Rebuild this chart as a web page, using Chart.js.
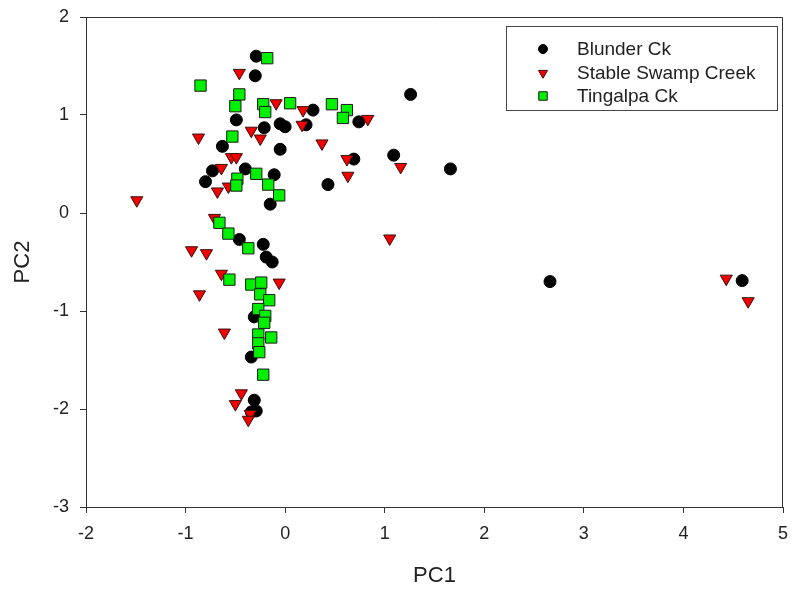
<!DOCTYPE html>
<html>
<head>
<meta charset="utf-8">
<script src="https://cdn.jsdelivr.net/npm/chart.js@4"></script>
<style>
  html, body { margin: 0; padding: 0; background: #fff; }
  canvas { display: block; }
</style>
</head>
<body>
<canvas id="pcaCanvas" width="792" height="590"></canvas>
<script>
// PC1 / PC2 scores
const blunderX = [-0.29, -0.30, 1.26, -0.49, -0.21, -0.05, 0.00, 0.28, 0.21, 0.74, 0.69, 1.09, 1.66, 0.43, -0.63, -0.05,
  -0.73, -0.80, -0.40, -0.11, -0.15, -0.46, -0.22, -0.19, -0.13, -0.31, -0.34, -0.31, -0.29, -0.34, 2.66, 4.59];
const blunderY = [1.60, 1.40, 1.21, 0.95, 0.87, 0.91, 0.88, 1.05, 0.90, 0.93, 0.55, 0.59, 0.45, 0.29, 0.68, 0.65,
  0.43, 0.32, 0.45, 0.39, 0.09, -0.27, -0.32, -0.45, -0.50, -1.06, -1.47, -1.91, -2.02, -2.03, -0.70, -0.69];

const stableX = [-0.46, -0.09, 0.18, 0.17, -0.87, -0.34, -0.25, 0.37, -0.54, -0.49, 0.62, 0.63, -0.64, -0.68, -0.57, 0.83,
  1.16, 1.05, -1.49, -0.71, -0.94, -0.79, -0.64, -0.86, -0.06, -0.61, -0.44, -0.50, -0.35, -0.37, 4.43, 4.65];
const stableY = [1.43, 1.12, 1.05, 0.90, 0.77, 0.84, 0.76, 0.71, 0.57, 0.57, 0.55, 0.38, 0.46, 0.22, 0.27, 0.96,
  0.47, -0.26, 0.13, -0.05, -0.38, -0.41, -0.62, -0.83, -0.71, -1.22, -1.84, -1.95, -2.05, -2.11, -0.67, -0.90];

const tingalpaX = [-0.18, -0.85, -0.46, -0.50, -0.22, -0.20, 0.05, 0.47, 0.62, 0.58, -0.53, -0.29, -0.48, -0.49, -0.17, -0.06,
  -0.66, -0.57, -0.37, -0.56, -0.34, -0.24, -0.25, -0.16, -0.27, -0.20, -0.21, -0.14, -0.27, -0.27, -0.26, -0.22];
const tingalpaY = [1.58, 1.30, 1.21, 1.09, 1.11, 1.03, 1.12, 1.11, 1.05, 0.97, 0.78, 0.40, 0.35, 0.28, 0.29, 0.18,
  -0.10, -0.21, -0.36, -0.68, -0.73, -0.71, -0.83, -0.89, -0.98, -1.05, -1.12, -1.27, -1.24, -1.33, -1.42, -1.65];

const seriesNames = ['Blunder Ck', 'Stable Swamp Creek', 'Tingalpa Ck'];

function toPoints(xs, ys) {
  return xs.map((x, i) => ({ x: x, y: ys[i] }));
}

const FONT = '"Liberation Sans", Arial, sans-serif';

const styles = [
  { pointStyle: 'circle', radius: 6, rotation: 0, bg: '#000000', border: '#000000', lw: 1 },
  { pointStyle: 'triangle', radius: 7, rotation: 180, bg: '#f00000', border: '#3a1010', lw: 1 },
  { pointStyle: 'rect', radius: 8, rotation: 0, bg: '#00f000', border: '#1a1a1a', lw: 1 }
];

// frame on top and right of the plot
const framePlugin = {
  id: 'frame',
  afterDraw(chart) {
    const a = chart.chartArea;
    const ctx = chart.ctx;
    ctx.save();
    ctx.strokeStyle = '#333';
    ctx.lineWidth = 1;
    ctx.beginPath();
    ctx.moveTo(a.left, a.top + 0.5);
    ctx.lineTo(a.right - 0.5, a.top + 0.5);
    ctx.lineTo(a.right - 0.5, a.bottom);
    ctx.stroke();
    ctx.restore();
  }
};

// boxed legend in the top right corner
const legendPlugin = {
  id: 'boxLegend',
  afterDraw(chart) {
    const ctx = chart.ctx;
    ctx.save();
    ctx.strokeStyle = '#444';
    ctx.lineWidth = 1;
    ctx.strokeRect(506.5, 26.5, 271, 84);
    ctx.font = '19px ' + FONT;
    ctx.textBaseline = 'middle';
    const rows = [49, 73, 96];
    seriesNames.forEach((name, i) => {
      const s = styles[i];
      ctx.fillStyle = s.bg;
      ctx.strokeStyle = s.border;
      Chart.helpers.drawPoint(ctx, {
        pointStyle: s.pointStyle,
        radius: s.radius * 0.75,
        rotation: s.rotation,
        borderWidth: 1
      }, 543, rows[i]);
      ctx.fillStyle = '#222';
      ctx.fillText(name, 577, rows[i] + 1);
    });
    ctx.restore();
  }
};

const ctxPca = document.getElementById('pcaCanvas').getContext('2d');
const pcaChart = new Chart(ctxPca, {
  type: 'scatter',
  data: {
    datasets: [
      { label: seriesNames[0], data: toPoints(blunderX, blunderY), order: 3 },
      { label: seriesNames[1], data: toPoints(stableX, stableY), order: 2 },
      { label: seriesNames[2], data: toPoints(tingalpaX, tingalpaY), order: 1 }
    ].map((d, i) => Object.assign(d, {
      pointStyle: styles[i].pointStyle,
      pointRadius: styles[i].radius,
      pointRotation: styles[i].rotation,
      pointBackgroundColor: styles[i].bg,
      pointBorderColor: styles[i].border,
      pointBorderWidth: styles[i].lw
    }))
  },
  options: {
    responsive: false,
    animation: false,
    events: [],
    layout: { padding: { left: 0, top: 17, right: 6, bottom: 0 } },
    plugins: {
      legend: { display: false },
      tooltip: { enabled: false }
    },
    scales: {
      x: {
        type: 'linear',
        min: -2,
        max: 5,
        afterFit(scale) {
          scale.height = 83;
          scale.paddingLeft = 0;
          scale.paddingRight = 0;
        },
        border: { color: '#333', width: 1 },
        grid: { drawOnChartArea: false, drawTicks: true, tickLength: 6, color: '#333' },
        ticks: {
          stepSize: 1,
          padding: 10,
          color: '#222',
          font: { family: FONT, size: 18 }
        },
        title: {
          display: true,
          text: 'PC1',
          color: '#222',
          padding: { top: 1, bottom: 1 },
          font: { family: FONT, size: 22 }
        }
      },
      y: {
        type: 'linear',
        min: -3,
        max: 2,
        afterFit(scale) {
          scale.width = 86;
          scale.paddingTop = 0;
          scale.paddingBottom = 0;
        },
        border: { color: '#333', width: 1 },
        grid: { drawOnChartArea: false, drawTicks: true, tickLength: 6, color: '#333' },
        ticks: {
          stepSize: 1,
          padding: 11,
          color: '#222',
          font: { family: FONT, size: 18 }
        },
        title: {
          display: true,
          text: 'PC2',
          color: '#222',
          padding: { top: 10, bottom: 10 },
          font: { family: FONT, size: 22 }
        }
      }
    }
  },
  plugins: [framePlugin, legendPlugin]
});
</script>
</body>
</html>
